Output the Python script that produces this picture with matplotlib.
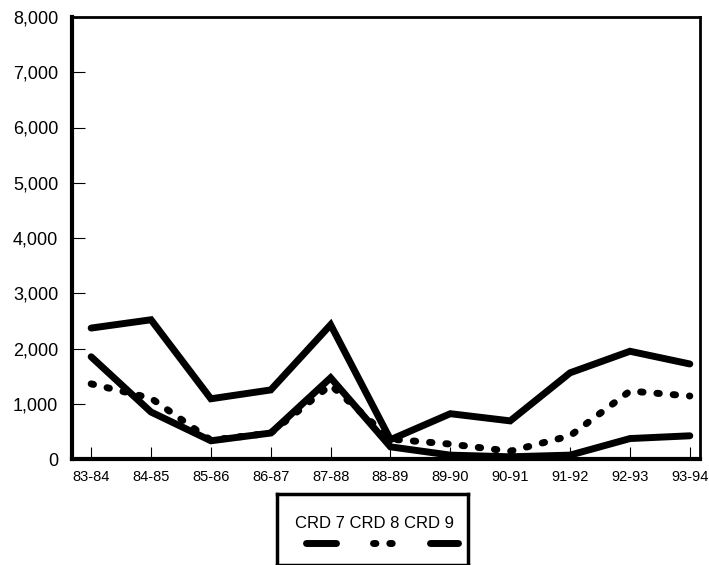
import numpy as np
import matplotlib.pyplot as plt
from matplotlib.lines import Line2D

plt.rcParams['font.family'] = ['Liberation Sans', 'DejaVu Sans']

# Data
seasons = ['83-84', '84-85', '85-86', '86-87', '87-88', '88-89',
           '89-90', '90-91', '91-92', '92-93', '93-94']
crd7 = [1850, 850, 330, 470, 1470, 220, 70, 40, 70, 370, 420]
crd8 = [1360, 1100, 340, 470, 1340, 360, 270, 140, 420, 1230, 1140]
crd9 = [2370, 2520, 1090, 1250, 2430, 350, 820, 690, 1560, 1950, 1720]
yticks = [0, 1000, 2000, 3000, 4000, 5000, 6000, 7000, 8000]

dotted = (0, (0.35, 2.0))

fig = plt.figure(figsize=(7.09, 5.65), dpi=100)
ax = fig.add_axes([72 / 709, 1 - 459 / 565, 628 / 709, 442 / 565])

x = np.arange(len(seasons))
ax.plot(x, crd7, color='black', lw=5, solid_capstyle='round', solid_joinstyle='miter')
ax.plot(x, crd8, color='black', lw=5, linestyle=dotted, dash_capstyle='round')
ax.plot(x, crd9, color='black', lw=5, solid_capstyle='round', solid_joinstyle='miter')

ax.set_xlim(-0.32, 10.17)
ax.set_ylim(0, 8000)
ax.set_xticks(x)
ax.set_xticklabels(seasons, fontsize=10.5)
ax.set_yticks(yticks)
ax.set_yticklabels([f'{v:,}' for v in yticks], fontsize=13)
ax.tick_params(axis='both', direction='in', color='black', width=0.8)
ax.tick_params(axis='y', length=9.5, pad=10)
ax.tick_params(axis='x', length=8.5, pad=8)

ax.spines['left'].set_linewidth(3)
ax.spines['bottom'].set_linewidth(3)
ax.spines['top'].set_linewidth(2)
ax.spines['right'].set_linewidth(2)

# Legend box below the plot
lax = fig.add_axes([277 / 709, 0, 191 / 709, 71 / 565])
lax.set_xlim(0, 1)
lax.set_ylim(0, 1)
lax.set_xticks([])
lax.set_yticks([])
for s in lax.spines.values():
    s.set_linewidth(2.5)
lax.text(0.51, 0.58, 'CRD 7 CRD 8 CRD 9', ha='center', va='center', fontsize=12)
samples = [('-', 0.15, 0.31), (dotted, 0.50, 0.62), ('-', 0.80, 0.95)]
for st, x0, x1 in samples:
    lax.add_line(Line2D([x0, x1], [0.31, 0.31], color='black', lw=5,
                        linestyle=st, solid_capstyle='round', dash_capstyle='round'))

fig.savefig('out.png', dpi=100)
